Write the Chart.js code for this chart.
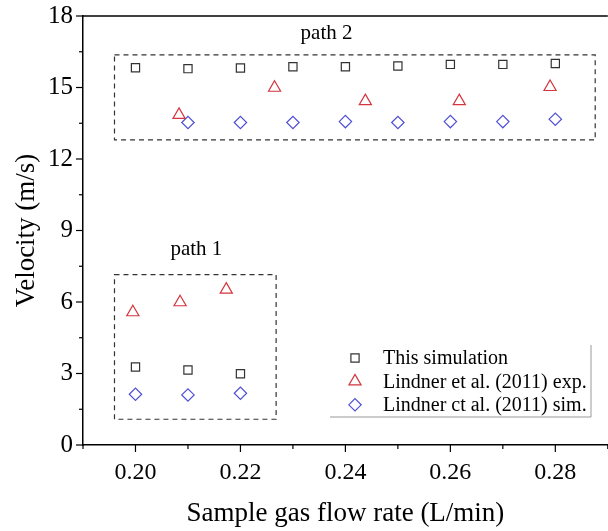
<!DOCTYPE html>
<html>
<head>
<meta charset="utf-8">
<script src="https://cdn.jsdelivr.net/npm/chart.js@4/dist/chart.umd.min.js"></script>
<style>
  html, body { margin: 0; padding: 0; background: #fff; overflow: hidden; }
  canvas { display: block; }
</style>
</head>
<body>
<canvas id="velocityChart" width="616" height="531"></canvas>
<script>
// flow rate (L/min) and velocity (m/s)
const simFlow = [0.20, 0.21, 0.22, 0.20, 0.21, 0.22, 0.23, 0.24, 0.25, 0.26, 0.27, 0.28];
const simVelocity = [3.27, 3.15, 2.99, 15.83, 15.79, 15.82, 15.87, 15.87, 15.90, 15.97, 15.97, 16.01];

const expFlow = [0.1995, 0.2085, 0.2173, 0.2083, 0.2265, 0.2438, 0.2617, 0.2790];
const expVelocity = [5.57, 5.99, 6.52, 13.85, 14.99, 14.43, 14.43, 15.02];

const refSimFlow = [0.20, 0.21, 0.22, 0.21, 0.22, 0.23, 0.24, 0.25, 0.26, 0.27, 0.28];
const refSimVelocity = [2.13, 2.10, 2.17, 13.53, 13.53, 13.53, 13.57, 13.53, 13.57, 13.57, 13.67];

const seriesLabels = ['This simulation', 'Lindner et al. (2011) exp.', 'Lindner ct al. (2011) sim.'];

// dashed groups, in data units
const pathBoxes = [
    { text: 'path 1', x0: 0.196, x1: 0.2268, y0: 1.08, y1: 7.15, tx: 0.2116, ty: 7.97 },
    { text: 'path 2', x0: 0.196, x1: 0.2876, y0: 12.8, y1: 16.37, tx: 0.2364, ty: 17.04 }
];

const serif = '"Liberation Serif", "Times New Roman", serif';

function toPoints(xs, ys) {
    return xs.map((x, i) => ({ x: x, y: ys[i] }));
}

const extras = {
    id: 'extras',
    afterDraw(chart) {
        const { ctx, chartArea: area, scales: { x, y } } = chart;
        ctx.save();

        // top frame line
        ctx.strokeStyle = '#000';
        ctx.lineWidth = 1.5;
        ctx.beginPath();
        ctx.moveTo(area.left, area.top);
        ctx.lineTo(area.right, area.top);
        ctx.stroke();

        // tick marks, outward
        ctx.lineWidth = 1.2;
        x.ticks.forEach(t => {
            const px = x.getPixelForValue(t.value);
            const len = t.label ? 7 : 4;
            ctx.beginPath();
            ctx.moveTo(px, area.bottom);
            ctx.lineTo(px, area.bottom + len);
            ctx.stroke();
        });
        y.ticks.forEach(t => {
            const py = y.getPixelForValue(t.value);
            const len = t.label ? 7 : 4;
            ctx.beginPath();
            ctx.moveTo(area.left, py);
            ctx.lineTo(area.left - len, py);
            ctx.stroke();
        });

        // dashed boxes + labels
        ctx.strokeStyle = '#333';
        ctx.lineWidth = 1.2;
        ctx.setLineDash([5, 4]);
        ctx.fillStyle = '#000';
        ctx.font = '21px ' + serif;
        ctx.textAlign = 'center';
        ctx.textBaseline = 'alphabetic';
        pathBoxes.forEach(b => {
            const l = x.getPixelForValue(b.x0), r = x.getPixelForValue(b.x1);
            const t = y.getPixelForValue(b.y1), bt = y.getPixelForValue(b.y0);
            ctx.strokeRect(l, t, r - l, bt - t);
            ctx.fillText(b.text, x.getPixelForValue(b.tx), y.getPixelForValue(b.ty));
        });
        ctx.setLineDash([]);

        // legend
        const right = 591, bottom = area.bottom - 28;
        ctx.strokeStyle = '#999';
        ctx.lineWidth = 1;
        ctx.beginPath();
        ctx.moveTo(right, bottom - 72);
        ctx.lineTo(right, bottom);
        ctx.lineTo(330, bottom);
        ctx.stroke();

        ctx.font = '20px ' + serif;
        ctx.textAlign = 'left';
        ctx.textBaseline = 'middle';
        chart.data.datasets.forEach((ds, i) => {
            const cy = bottom - 59 + i * 23.4;
            ctx.fillStyle = 'rgba(0,0,0,0)';
            ctx.strokeStyle = ds.borderColor;
            ctx.lineWidth = ds.borderWidth;
            Chart.helpers.drawPoint(ctx, {
                pointStyle: ds.pointStyle,
                radius: ds.pointRadius,
                borderWidth: ds.borderWidth
            }, 355, cy);
            ctx.fillStyle = '#000';
            ctx.fillText(ds.label, 383, cy + 1);
        });
        ctx.restore();
    }
};

const ctx = document.getElementById('velocityChart').getContext('2d');
new Chart(ctx, {
    type: 'scatter',
    data: {
        datasets: [{
            label: seriesLabels[0],
            data: toPoints(simFlow, simVelocity),
            pointStyle: 'rect',
            pointRadius: 5.8,
            borderColor: '#333',
            backgroundColor: 'rgba(0,0,0,0)',
            borderWidth: 1.2
        }, {
            label: seriesLabels[1],
            data: toPoints(expFlow, expVelocity),
            pointStyle: 'triangle',
            pointRadius: 7,
            borderColor: '#d4353f',
            backgroundColor: 'rgba(0,0,0,0)',
            borderWidth: 1.2
        }, {
            label: seriesLabels[2],
            data: toPoints(refSimFlow, refSimVelocity),
            pointStyle: 'rectRot',
            pointRadius: 6.2,
            borderColor: '#4f4fd6',
            backgroundColor: 'rgba(0,0,0,0)',
            borderWidth: 1.2
        }]
    },
    options: {
        responsive: false,
        animation: false,
        layout: { padding: { top: 16, right: 5, left: 0, bottom: 0 } },
        plugins: {
            legend: { display: false },
            tooltip: { enabled: false }
        },
        scales: {
            x: {
                type: 'linear',
                min: 0.19,
                max: 0.29,
                afterFit(scale) {
                    scale.height = 86;
                    scale.paddingLeft = 0;
                    scale.paddingRight = 0;
                },
                grid: { display: false, drawTicks: false },
                border: { display: true, color: '#000', width: 1.5 },
                ticks: {
                    stepSize: 0.01,
                    autoSkip: false,
                    maxRotation: 0,
                    padding: 13,
                    color: '#000',
                    font: { family: serif, size: 24 },
                    callback: v => Math.round(v * 100) % 2 === 0 ? v.toFixed(2) : ''
                },
                title: {
                    display: true,
                    text: 'Sample gas flow rate (L/min)',
                    color: '#000',
                    font: { family: serif, size: 27 },
                    padding: { top: 0, bottom: 1 }
                }
            },
            y: {
                min: 0,
                max: 18,
                afterFit(scale) {
                    scale.width = 83;
                    scale.paddingTop = 0;
                    scale.paddingBottom = 0;
                },
                grid: { display: false, drawTicks: false },
                border: { display: true, color: '#000', width: 1.5 },
                ticks: {
                    stepSize: 1.5,
                    autoSkip: false,
                    padding: 10,
                    color: '#000',
                    font: { family: serif, size: 25 },
                    callback: v => Math.round(v * 2) % 6 === 0 ? String(v) : ''
                },
                title: {
                    display: true,
                    text: 'Velocity (m/s)',
                    color: '#000',
                    font: { family: serif, size: 27 },
                    padding: { top: 11, bottom: 0 }
                }
            }
        }
    },
    plugins: [extras]
});
</script>
</body>
</html>
